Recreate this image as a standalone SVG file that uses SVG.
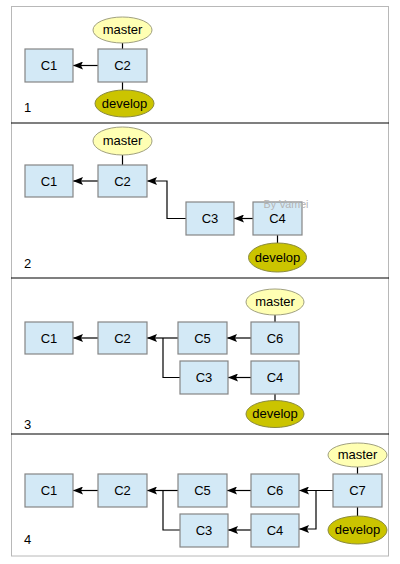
<svg xmlns="http://www.w3.org/2000/svg" width="400" height="564" viewBox="0 0 400 564">
<defs>
<marker id="arr" viewBox="0 0 10 8" refX="10" refY="4" markerWidth="10" markerHeight="8" markerUnits="userSpaceOnUse" orient="auto">
<path d="M0,0 L10,4 L0,8 L2,4 Z" fill="#000"/>
</marker>
<style>
.box{fill:#d3e9f6;stroke:#858585;stroke-width:1.2}
.mst{fill:#ffffb3;stroke:#a0a080;stroke-width:1}
.dev{fill:#cbc400;stroke:#8a8a40;stroke-width:1}
.t{font-family:"Liberation Sans",Arial,sans-serif;font-size:13px;fill:#000;text-anchor:middle;dominant-baseline:central}
.n{font-family:"Liberation Sans",Arial,sans-serif;font-size:13px;fill:#000}
.e{fill:none;stroke:#000;stroke-width:1.2}
.a{fill:none;stroke:#000;stroke-width:1.2;marker-end:url(#arr)}
</style>
</defs>
<rect x="0" y="0" width="400" height="564" fill="#fff"/>
<rect x="11.5" y="6.5" width="377" height="549.5" fill="none" stroke="#b8b8b8" stroke-width="1"/>
<g id="dividers" stroke="#000" stroke-width="1.2">
<line x1="11" y1="123" x2="389" y2="123"/>
<line x1="11" y1="278" x2="389" y2="278"/>
<line x1="11" y1="434" x2="389" y2="434"/>
</g>
<g id="connectors">
<line class="e" x1="122.5" y1="43" x2="122.5" y2="49"/>
<line class="e" x1="122.5" y1="82" x2="122.5" y2="90"/>
<path class="a" d="M98,65.5 H73"/>
<line class="e" x1="122.5" y1="155" x2="122.5" y2="165"/>
<path class="a" d="M98,181 H73"/>
<path class="a" d="M186,218.5 H167 V181 H147"/>
<path class="a" d="M253,218.5 H234"/>
<line class="e" x1="277.5" y1="235" x2="277.5" y2="243"/>
<line class="e" x1="275" y1="315" x2="275" y2="322"/>
<path class="a" d="M98,338 H73"/>
<path class="a" d="M178,338 H147"/>
<path class="e" d="M180,377.5 H163 V338"/>
<path class="a" d="M251,338 H227"/>
<path class="a" d="M251,377.5 H228"/>
<line class="e" x1="275" y1="394" x2="275" y2="401"/>
<line class="e" x1="357.5" y1="467" x2="357.5" y2="474"/>
<line class="e" x1="357.5" y1="507" x2="357.5" y2="516"/>
<path class="a" d="M98,490.5 H73"/>
<path class="a" d="M178,490.5 H147"/>
<path class="e" d="M180,530 H163 V490.5"/>
<path class="a" d="M251,490.5 H227"/>
<path class="a" d="M251,530 H228"/>
<path class="a" d="M333,490.5 H299"/>
<path class="a" d="M316,490.5 V529 H299"/>
</g>
<g id="panel1">
<g id="p1-c1"><rect class="box" x="25" y="49" width="48" height="33"/><text class="t" x="49" y="65.5">C1</text></g>
<g id="p1-c2"><rect class="box" x="98" y="49" width="49" height="33"/><text class="t" x="122.5" y="65.5">C2</text></g>
<g id="p1-master"><ellipse class="mst" cx="122.5" cy="30" rx="29.5" ry="13"/><text class="t" x="122.5" y="29">master</text></g>
<g id="p1-develop"><ellipse class="dev" cx="124.5" cy="103.5" rx="29.5" ry="13.5"/><text class="t" x="124.5" y="103">develop</text></g>
<text class="n" x="24" y="112">1</text>
</g>
<g id="panel2">
<g id="p2-c1"><rect class="box" x="25" y="165" width="48" height="32"/><text class="t" x="49" y="181">C1</text></g>
<g id="p2-c2"><rect class="box" x="98" y="165" width="49" height="32"/><text class="t" x="122.5" y="181">C2</text></g>
<g id="p2-c3"><rect class="box" x="186" y="202" width="48" height="33"/><text class="t" x="210" y="218.5">C3</text></g>
<g id="p2-c4"><rect class="box" x="253" y="202" width="49" height="33"/><text class="t" x="277.5" y="218.5">C4</text></g>
<g id="p2-master"><ellipse class="mst" cx="122.5" cy="141" rx="29.5" ry="14"/><text class="t" x="122.5" y="140.5">master</text></g>
<g id="p2-develop"><ellipse class="dev" cx="277.5" cy="257.5" rx="29" ry="14.5"/><text class="t" x="277.5" y="257">develop</text></g>
<text x="286" y="208" font-family="Liberation Sans,Arial,sans-serif" font-size="10.7px" fill="#b4b4b4" text-anchor="middle">By Vamei</text>
<text class="n" x="24" y="268">2</text>
</g>
<g id="panel3">
<g id="p3-c1"><rect class="box" x="25" y="322" width="48" height="32"/><text class="t" x="49" y="338">C1</text></g>
<g id="p3-c2"><rect class="box" x="98" y="322" width="49" height="32"/><text class="t" x="122.5" y="338">C2</text></g>
<g id="p3-c5"><rect class="box" x="178" y="322" width="49" height="32"/><text class="t" x="202.5" y="338">C5</text></g>
<g id="p3-c6"><rect class="box" x="251" y="322" width="48" height="32"/><text class="t" x="275" y="338">C6</text></g>
<g id="p3-c3"><rect class="box" x="180" y="361" width="48" height="33"/><text class="t" x="204" y="377.5">C3</text></g>
<g id="p3-c4"><rect class="box" x="251" y="361" width="48" height="33"/><text class="t" x="275" y="377.5">C4</text></g>
<g id="p3-master"><ellipse class="mst" cx="275" cy="302" rx="29" ry="13"/><text class="t" x="275" y="301">master</text></g>
<g id="p3-develop"><ellipse class="dev" cx="275" cy="414" rx="29" ry="13.5"/><text class="t" x="275" y="413.5">develop</text></g>
<text class="n" x="24" y="429">3</text>
</g>
<g id="panel4">
<g id="p4-c1"><rect class="box" x="25" y="474" width="48" height="33"/><text class="t" x="49" y="490.5">C1</text></g>
<g id="p4-c2"><rect class="box" x="98" y="474" width="49" height="33"/><text class="t" x="122.5" y="490.5">C2</text></g>
<g id="p4-c5"><rect class="box" x="178" y="474" width="49" height="33"/><text class="t" x="202.5" y="490.5">C5</text></g>
<g id="p4-c6"><rect class="box" x="251" y="474" width="48" height="33"/><text class="t" x="275" y="490.5">C6</text></g>
<g id="p4-c7"><rect class="box" x="333" y="474" width="49" height="33"/><text class="t" x="357.5" y="490.5">C7</text></g>
<g id="p4-c3"><rect class="box" x="180" y="514" width="48" height="33"/><text class="t" x="204" y="530">C3</text></g>
<g id="p4-c4"><rect class="box" x="251" y="514" width="48" height="33"/><text class="t" x="275" y="530">C4</text></g>
<g id="p4-master"><ellipse class="mst" cx="357.5" cy="455" rx="29.5" ry="12"/><text class="t" x="357.5" y="454">master</text></g>
<g id="p4-develop"><ellipse class="dev" cx="357.5" cy="530" rx="29.5" ry="14"/><text class="t" x="357.5" y="529.5">develop</text></g>
<text class="n" x="24" y="544">4</text>
</g>
</svg>
